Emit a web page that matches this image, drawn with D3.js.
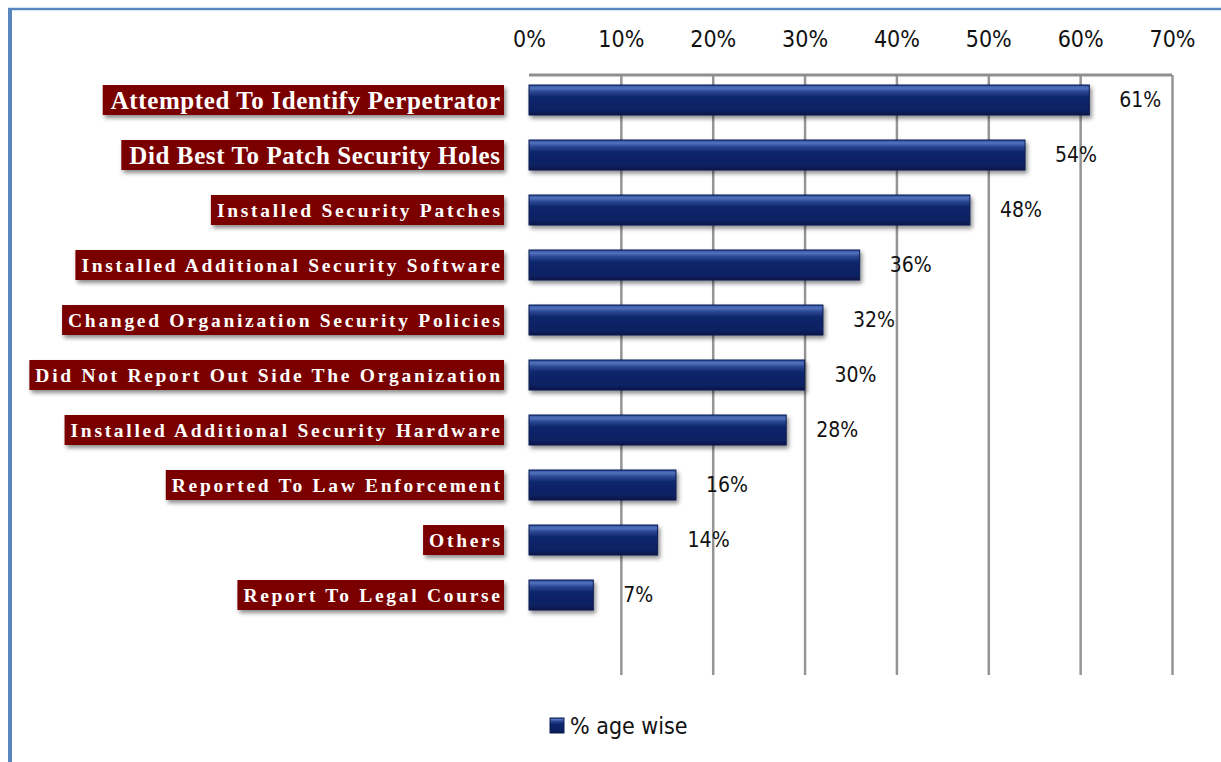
<!DOCTYPE html>
<html>
<head>
<meta charset="utf-8">
<script src="https://cdn.jsdelivr.net/npm/d3@7"></script>
<style>
  html, body { margin: 0; padding: 0; background: #ffffff; }
  svg { display: block; }
  .num { font-family: "Liberation Sans Narrow", "DejaVu Sans Condensed", "Arial Narrow", sans-serif; fill: #111; }
  .cat { font-family: "Liberation Serif", "Times New Roman", serif; font-weight: bold; fill: #ffffff; }
</style>
</head>
<body>
<svg id="chart" width="1221" height="762"></svg>
<script>
// Responses to security incidents, share of respondents (%)
const categories = [
  "Attempted To Identify Perpetrator",
  "Did Best To Patch Security Holes",
  "Installed Security Patches",
  "Installed Additional Security Software",
  "Changed Organization Security Policies",
  "Did Not Report Out Side The Organization",
  "Installed Additional Security Hardware",
  "Reported To Law Enforcement",
  "Others",
  "Report To Legal Course"
];
const values = [61, 54, 48, 36, 32, 30, 28, 16, 14, 7];
const tickValues = [0, 10, 20, 30, 40, 50, 60, 70];
const seriesName = "% age wise";

const svg = d3.select("#chart");
const W = 1221, H = 762;

// frame
svg.append("rect").attr("x", 0).attr("y", 0).attr("width", W).attr("height", H).attr("fill", "#ffffff");
svg.append("line").attr("x1", 8).attr("x2", W).attr("y1", 9).attr("y2", 9)
  .attr("stroke", "#5a86bf").attr("stroke-width", 2.5);
svg.append("line").attr("x1", 10).attr("x2", 10).attr("y1", 8).attr("y2", H)
  .attr("stroke", "#5a86bf").attr("stroke-width", 4);

const defs = svg.append("defs");
const grad = defs.append("linearGradient").attr("id", "barGrad")
  .attr("x1", 0).attr("y1", 0).attr("x2", 0).attr("y2", 1);
[["0%", "#2b4a9a"], ["10%", "#5573bd"], ["22%", "#2a4894"], ["40%", "#0e266b"],
 ["85%", "#0a2062"], ["100%", "#061645"]].forEach(([o, c]) =>
  grad.append("stop").attr("offset", o).attr("stop-color", c));

const shadow = defs.append("filter").attr("id", "shadow")
  .attr("x", "-5%").attr("y", "-20%").attr("width", "115%").attr("height", "160%");
shadow.append("feDropShadow").attr("dx", 2).attr("dy", 3).attr("stdDeviation", 2)
  .attr("flood-color", "#000").attr("flood-opacity", 0.45);

const margin = { left: 529, right: 49, top: 75, bottom: 87 };
const x = d3.scaleLinear().domain([0, 70]).range([margin.left, W - margin.right]);
const plotBottom = H - margin.bottom;
const y = d3.scaleBand().domain(categories).range([72.5, 622.5]).paddingInner(25 / 55).paddingOuter(25 / 110);

// gridlines
const grid = svg.append("g").attr("transform", `translate(0,${plotBottom})`)
  .call(d3.axisBottom(x).tickValues(tickValues.slice(1)).tickSize(-(plotBottom - margin.top)).tickFormat(""));
grid.select(".domain").remove();
grid.selectAll("line").attr("stroke", "#959595").attr("stroke-width", 2.5);

// top border of plot area
svg.append("line").attr("x1", x(0)).attr("x2", x(70)).attr("y1", margin.top).attr("y2", margin.top)
  .attr("stroke", "#8f8f8f").attr("stroke-width", 3);

// tick labels along the top
const topAxis = svg.append("g").attr("transform", "translate(0,47)")
  .call(d3.axisTop(x).tickValues(tickValues).tickSize(0).tickPadding(0).tickFormat(d => d + "%"));
topAxis.select(".domain").remove();
topAxis.selectAll("text").attr("class", "num").attr("font-size", 23).attr("fill", "#111");

// bars
svg.append("g").selectAll("rect").data(values).join("rect")
  .attr("x", x(0))
  .attr("y", (d, i) => y(categories[i]))
  .attr("width", d => x(d) - x(0))
  .attr("height", y.bandwidth())
  .attr("fill", "url(#barGrad)")
  .attr("stroke", "#0a1c50").attr("stroke-width", 1)
  .attr("filter", "url(#shadow)");

// value labels
svg.append("g").selectAll("text").data(values).join("text")
  .attr("class", "num")
  .attr("x", d => x(d) + 30)
  .attr("y", (d, i) => y(categories[i]) + y.bandwidth() / 2)
  .attr("dy", "0.35em")
  .attr("font-size", 21)
  .text(d => d + "%");

// vertical value axis line at 0%
svg.append("line").attr("x1", x(0)).attr("x2", x(0)).attr("y1", margin.top).attr("y2", plotBottom)
  .attr("stroke", "#000").attr("stroke-width", 3).attr("filter", "url(#shadow)");

// category labels on dark red plates
const labelRight = 504;
const lab = svg.append("g").selectAll("g").data(categories).join("g");
lab.each(function (d, i) {
  const g = d3.select(this);
  const cy = y(d) + y.bandwidth() / 2;
  const big = i < 2;
  const ls = big ? 0.6 : 2.7;
  const rect = g.append("rect").attr("fill", "#7a0000").attr("filter", "url(#shadow)");
  const t = g.append("text").attr("class", "cat")
    .attr("font-size", big ? 25 : 19.5)
    .attr("letter-spacing", ls)
    .attr("text-anchor", "end")
    .attr("x", labelRight - 4 + ls)
    .attr("y", cy)
    .attr("dy", "0.35em")
    .text(d);
  const w = t.node().getComputedTextLength() - ls;
  const pad = big ? 12 : 10;
  rect.attr("x", labelRight - w - pad).attr("width", w + pad)
    .attr("y", cy - 15).attr("height", 30);
});

// legend
const leg = svg.append("g").attr("transform", "translate(550,718)");
leg.append("rect").attr("width", 14).attr("height", 15).attr("fill", "url(#barGrad)")
  .attr("stroke", "#0a1c50").attr("stroke-width", 1);
leg.append("text").attr("class", "num").attr("x", 20).attr("y", 8).attr("dy", "0.35em")
  .attr("font-size", 23).text(seriesName);
</script>
</body>
</html>
